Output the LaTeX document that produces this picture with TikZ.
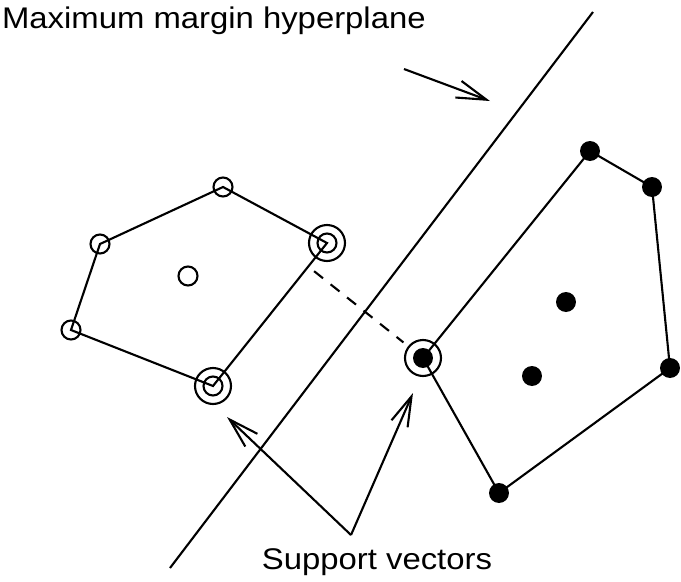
\documentclass[tikz,border=0pt]{standalone}
\usepackage{fontspec}
\setmainfont{Liberation Sans}[FakeStretch=1.1]
\usetikzlibrary{arrows.meta,calc}

\begin{document}
\begin{tikzpicture}[x=0.02cm, y=-0.02cm, line width=1.2pt,
        open/.style={circle, draw, inner sep=0pt, minimum size=0.38cm},
        filled/.style={circle, fill=black, inner sep=0pt, minimum size=0.4cm},
        pointer/.style={-{Straight Barb[length=17pt, width=10pt]}},
        tag/.style={inner sep=0pt, font=\fontsize{17}{20}\selectfont}]
        \useasboundingbox (0,0) rectangle (681,582);

        % Open class
        \node[open] (n1) at (100,244) {};
        \node[open] (n2) at (223,187) {};
        \node[open] (n3) at (188,276) {};
        \node[open] (n4) at (71,330) {};
        \node[open] (svA) at (327,243) {};
        \node[open] (svB) at (213,386) {};
        % Filled class
        \node[filled] (svC) at (423,358) {};
        \node[filled] (p1) at (590,151) {};
        \node[filled] (p2) at (652,187) {};
        \node[filled] (p3) at (566,302) {};
        \node[filled] (p4) at (532,376) {};
        \node[filled] (p5) at (670,368) {};
        \node[filled] (p6) at (499,493) {};
        \foreach \n in {svA,svB,svC} {
            \draw (\n) circle (0.36cm);
        }

        % Convex hulls
        \draw (n2.center) -- (svA.center) -- (svB.center) -- (n4.center) -- (n1.center) -- cycle;
        \draw (svC.center) -- (p1.center) -- (p2.center) -- (p5.center) -- (p6.center) -- cycle;
        \draw[dash pattern=on 6.5pt off 5.5pt, shorten <=0.15cm, shorten >=0.5cm]
            ($(svA)!(svC)!(svB)$) -- (svC.center);

        % Hyperplane
        \coordinate (hpTop) at (593,12);
        \coordinate (hpBot) at (170,568);
        \draw (hpBot) -- (hpTop);

        % Labels
        \node[tag, anchor=base west] (title) at (1,28) {Maximum margin hyperplane};
        \node[tag, anchor=base] (svlabel) at (377,569) {Support vectors};
        \coordinate (hpTail) at (404,69);
        \coordinate (hpTip) at (490,101);
        \draw[pointer] (hpTail) -- (hpTip);
        \coordinate (apex) at (351,535);
        \coordinate (tipL) at (227,417);
        \coordinate (tipR) at (413,393);
        \draw[pointer] (apex) -- (tipL);
        \draw[pointer] (apex) -- (tipR);
    \end{tikzpicture}
\end{document}
